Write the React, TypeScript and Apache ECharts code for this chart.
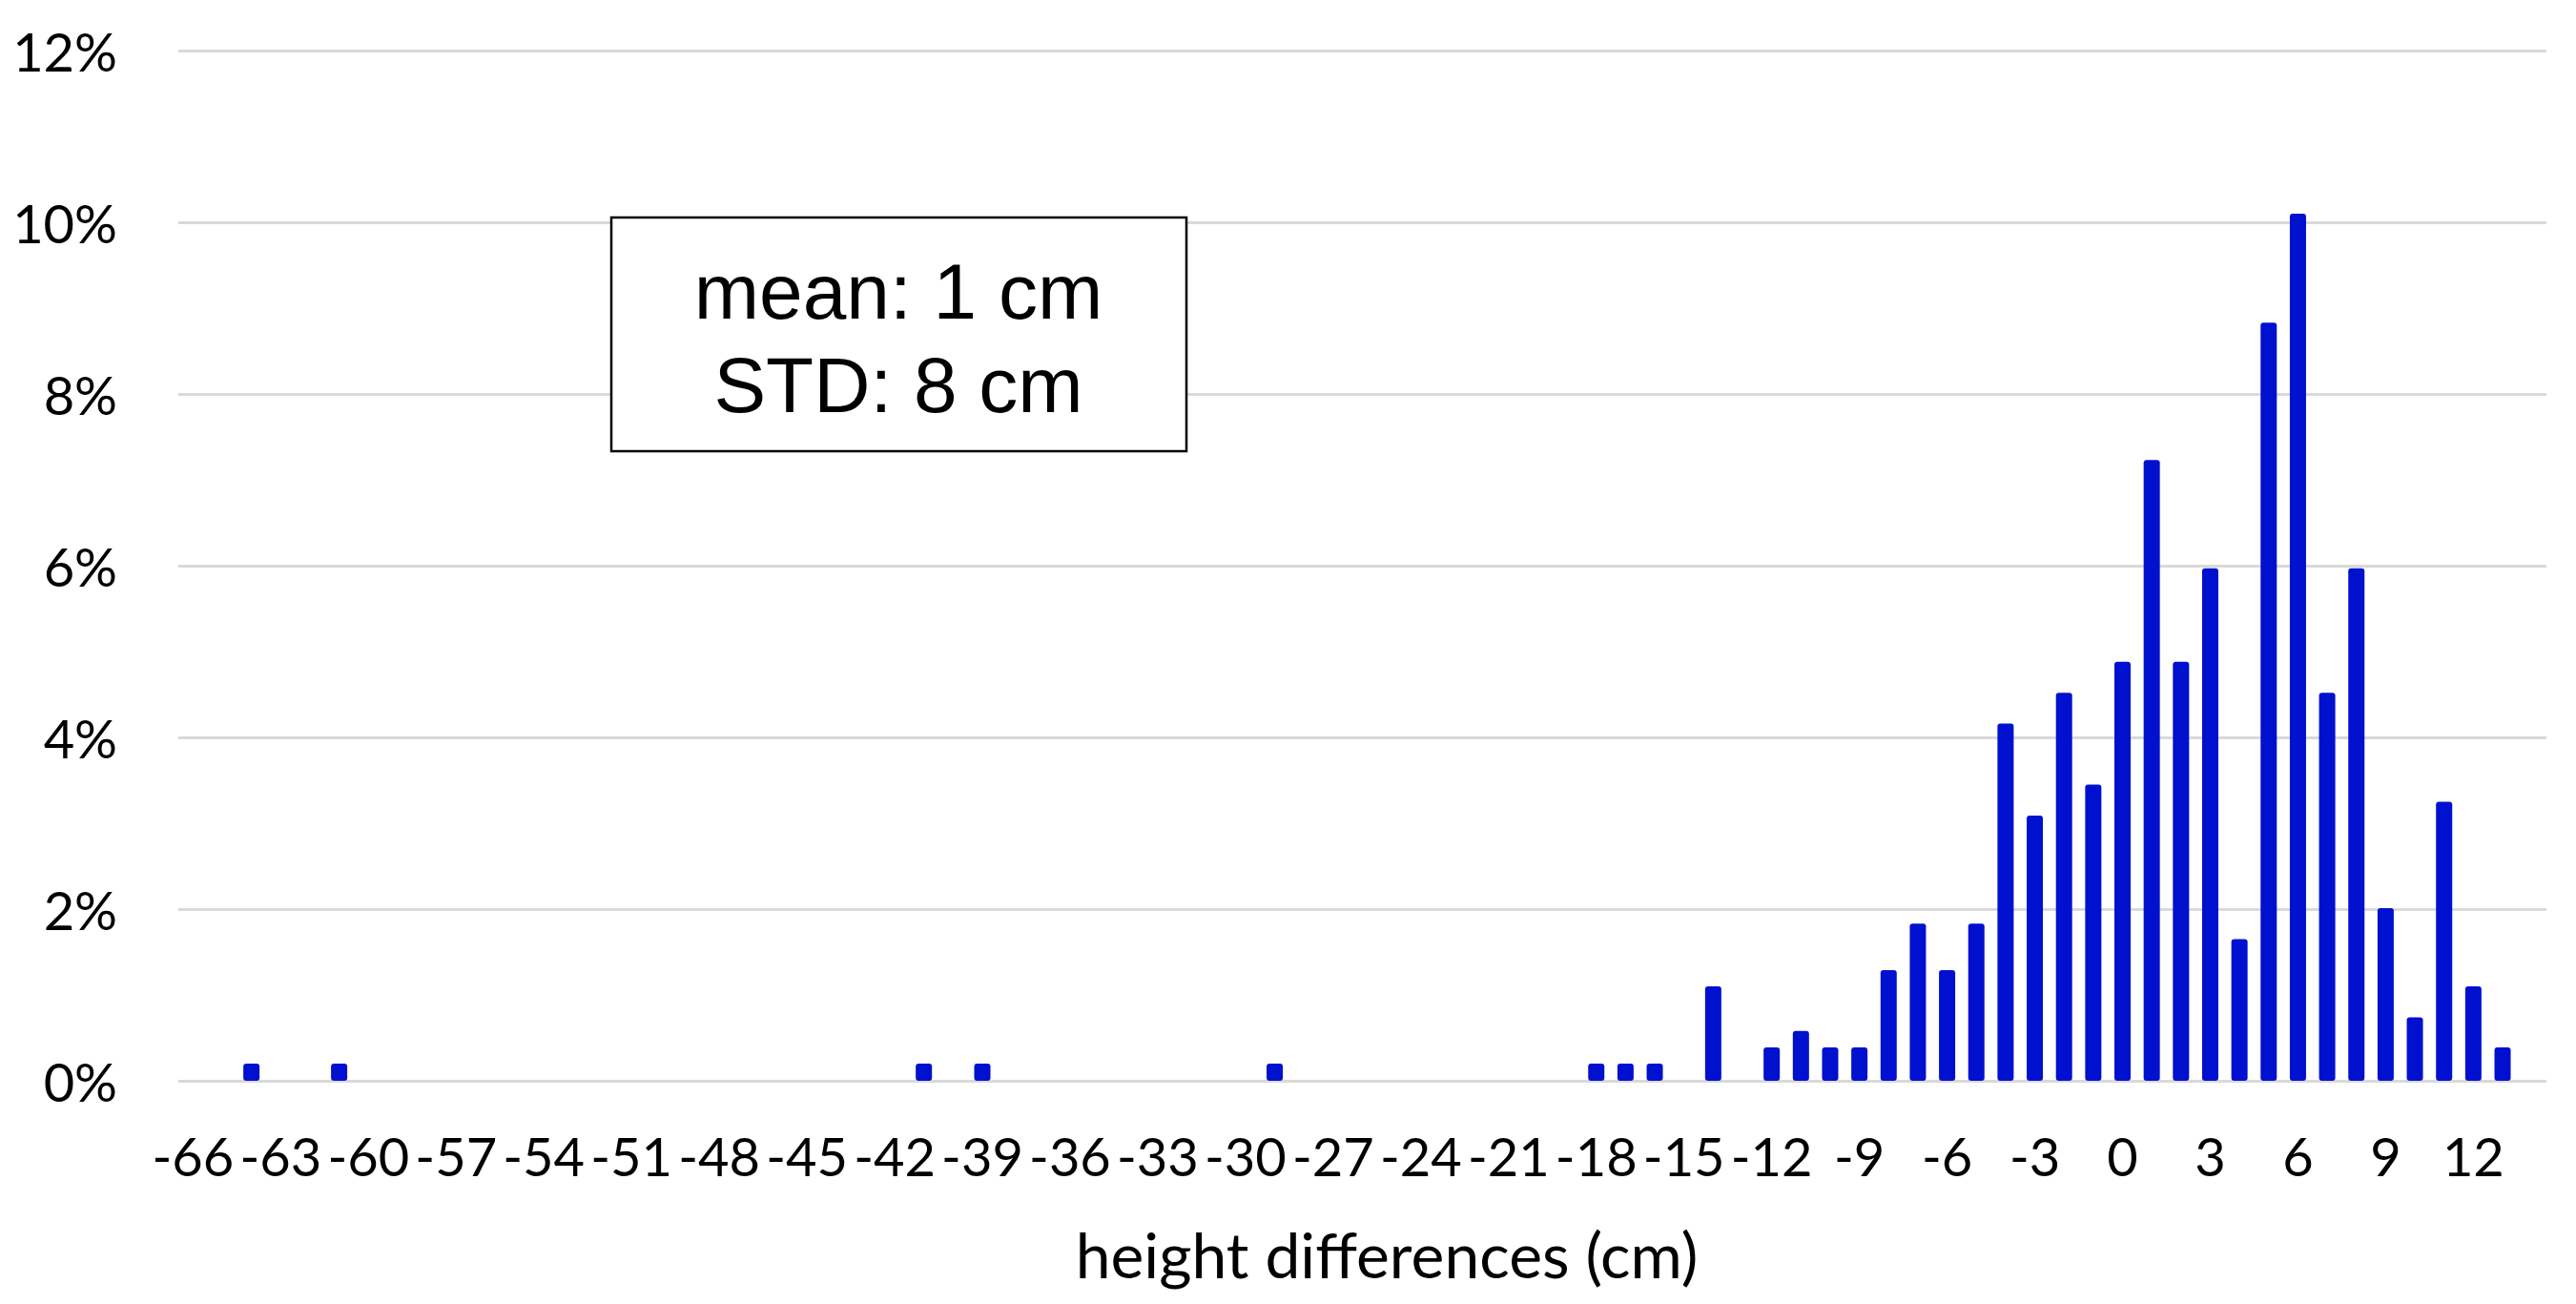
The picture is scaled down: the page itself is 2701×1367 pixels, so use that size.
import React, { useEffect, useRef } from "react";
import * as echarts from "echarts";

const categories: number[] = [
  -66, -65, -64, -63, -62, -61, -60, -59, -58, -57, -56, -55, -54, -53, -52, -51,
  -50, -49, -48, -47, -46, -45, -44, -43, -42, -41, -40, -39, -38, -37, -36, -35,
  -34, -33, -32, -31, -30, -29, -28, -27, -26, -25, -24, -23, -22, -21, -20, -19,
  -18, -17, -16, -15, -14, -13, -12, -11, -10, -9, -8, -7, -6, -5, -4, -3, -2, -1,
  0, 1, 2, 3, 4, 5, 6, 7, 8, 9, 10, 11, 12, 13, 14,
];

// share of samples in percent, one per category above
const shares: number[] = [
  0, 0, 0.2, 0, 0, 0.2, 0, 0, 0, 0, 0, 0, 0, 0, 0, 0,
  0, 0, 0, 0, 0, 0, 0, 0, 0, 0.2, 0, 0.2, 0, 0, 0, 0,
  0, 0, 0, 0, 0, 0.2, 0, 0, 0, 0, 0, 0, 0, 0, 0, 0,
  0.2, 0.2, 0.2, 0, 1.1, 0, 0.39, 0.58, 0.39, 0.39, 1.29, 1.83, 1.29, 1.83, 4.16, 3.09, 4.52, 3.45,
  4.88, 7.23, 4.88, 5.97, 1.65, 8.83, 10.1, 4.52, 5.97, 2.01, 0.74, 3.25, 1.1, 0.39, 0,
];

const yTicks = { min: 0, max: 12, interval: 2 };
const xTitle = "height differences (cm)";
const statsLines = ["mean: 1 cm", "STD: 8 cm"];

export default function App() {
  const ref = useRef<HTMLDivElement>(null);

  useEffect(() => {
    if (!ref.current) return;
    const chart = echarts.init(ref.current, undefined, { renderer: "svg" });
    const font = "Lato, 'Open Sans', sans-serif";
    chart.setOption({
      animation: false,
      backgroundColor: "#ffffff",
      grid: { left: 187, right: 31, top: 53, bottom: 234 },
      xAxis: {
        type: "category",
        data: categories.map(String),
        axisLine: { show: false },
        axisTick: { show: false },
        axisLabel: {
          interval: 2,
          margin: 50,
          fontSize: 56,
          fontFamily: font,
          color: "#000000",
        },
        splitLine: { show: false },
      },
      yAxis: {
        type: "value",
        min: yTicks.min,
        max: yTicks.max,
        interval: yTicks.interval,
        axisLine: { show: false },
        axisTick: { show: false },
        axisLabel: {
          formatter: "{value}%",
          margin: 64,
          fontSize: 56,
          fontFamily: font,
          color: "#000000",
        },
        splitLine: { lineStyle: { color: "#d9d9d9", width: 3 } },
      },
      series: [
        {
          type: "bar",
          data: shares,
          barWidth: 17,
          itemStyle: { color: "#0010cf", borderRadius: 3 },
        },
      ],
      graphic: [
        {
          type: "rect",
          shape: { x: 641, y: 228, width: 603, height: 245 },
          style: { fill: "#ffffff", stroke: "#000000", lineWidth: 2.5 },
          z: 10,
        },
        {
          type: "text",
          x: 942,
          y: 354,
          z: 11,
          style: {
            text: statsLines.join("\n"),
            fontSize: 82,
            lineHeight: 98,
            fontFamily: "'Liberation Sans', Arial, sans-serif",
            fill: "#000000",
            align: "center",
            verticalAlign: "middle",
          },
        },
        {
          type: "text",
          x: 1454,
          y: 1314,
          style: {
            text: xTitle,
            fontSize: 66,
            fontFamily: font,
            fill: "#000000",
            align: "center",
            verticalAlign: "middle",
          },
        },
      ],
    });
    return () => chart.dispose();
  }, []);

  return (
    <div
      ref={ref}
      style={{ position: "fixed", left: 0, top: 0, width: 2701, height: 1367 }}
    />
  );
}
